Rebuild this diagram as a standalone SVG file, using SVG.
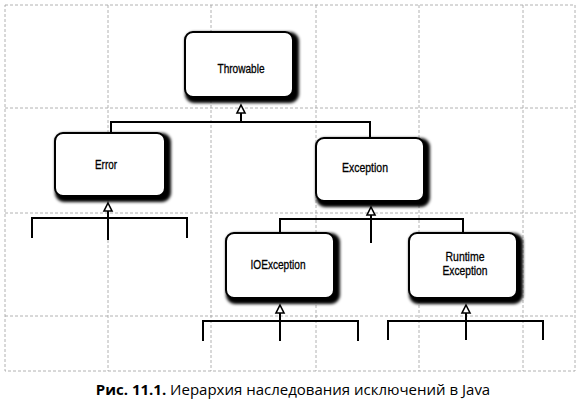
<svg xmlns="http://www.w3.org/2000/svg" width="580" height="403" viewBox="0 0 580 403">
<style>
.grid{fill:none;stroke:#a0a0a0;stroke-width:0.8;stroke-dasharray:3 2}
.box{fill:#fff;stroke:#000;stroke-width:2}
.lbl{font-family:"Liberation Sans",Arial,sans-serif;font-size:13px;fill:#000;stroke:#000;stroke-width:0.3;text-anchor:middle}
.conn{fill:none;stroke:#000;stroke-width:2}
.tri{fill:#fff;stroke:#000;stroke-width:1.6}
.cap{font-family:"Open Sans","DejaVu Sans",sans-serif;font-size:15px;fill:#000}
</style>
<defs>
<filter id="sh" x="-20%" y="-20%" width="140%" height="150%">
<feMorphology in="SourceAlpha" operator="dilate" radius="1.5" result="d"/>
<feGaussianBlur in="d" stdDeviation="1.8" result="b"/>
<feOffset in="b" dx="3" dy="3" result="o"/>
<feMerge><feMergeNode in="o"/><feMergeNode in="SourceGraphic"/></feMerge>
</filter>
</defs>
<rect width="580" height="403" fill="#fff"/>
<g id="grid">
<rect class="grid" x="5" y="5" width="570" height="366"/>
<line class="grid" x1="108" y1="5" x2="108" y2="371"/>
<line class="grid" x1="211" y1="5" x2="211" y2="371"/>
<line class="grid" x1="316" y1="5" x2="316" y2="371"/>
<line class="grid" x1="419" y1="5" x2="419" y2="371"/>
<line class="grid" x1="523" y1="5" x2="523" y2="371"/>
<line class="grid" x1="5" y1="108" x2="575" y2="108"/>
<line class="grid" x1="5" y1="213" x2="575" y2="213"/>
<line class="grid" x1="5" y1="316" x2="575" y2="316"/>
</g>
<g id="connectors">
<polyline class="conn" points="111,133 111,122 370,122 370,138"/>
<line class="conn" x1="241" y1="113" x2="241" y2="122"/>
<polygon class="tri" points="241,105 245,113 237,113"/>
<polyline class="conn" points="32,238 32,218 187,218 187,238"/>
<line class="conn" x1="108" y1="211" x2="108" y2="240"/>
<polygon class="tri" points="108,203 112,211 104,211"/>
<polyline class="conn" points="280,233 280,219 463,219 463,233"/>
<line class="conn" x1="371" y1="215" x2="371" y2="243"/>
<polygon class="tri" points="371,207 375,215 367,215"/>
<polyline class="conn" points="203,341 203,321 358,321 358,341"/>
<line class="conn" x1="280" y1="313" x2="280" y2="341"/>
<polygon class="tri" points="280,305 284,313 276,313"/>
<polyline class="conn" points="388,340 388,321 543,321 543,340"/>
<line class="conn" x1="466" y1="313" x2="466" y2="340"/>
<polygon class="tri" points="466,305 470,313 462,313"/>
</g>
<g id="throwable">
<rect class="box" filter="url(#sh)" x="185" y="32" width="108" height="65" rx="8"/>
<text class="lbl" x="241" y="73" textLength="47" lengthAdjust="spacingAndGlyphs">Throwable</text>
</g>
<g id="error">
<rect class="box" filter="url(#sh)" x="55" y="133" width="110" height="63" rx="8"/>
<text class="lbl" x="106" y="169" textLength="22" lengthAdjust="spacingAndGlyphs">Error</text>
</g>
<g id="exception">
<rect class="box" filter="url(#sh)" x="316" y="138" width="108" height="63" rx="8"/>
<text class="lbl" x="365" y="172" textLength="46" lengthAdjust="spacingAndGlyphs">Exception</text>
</g>
<g id="ioexception">
<rect class="box" filter="url(#sh)" x="226" y="233" width="108" height="65" rx="8"/>
<text class="lbl" x="278" y="269" textLength="55" lengthAdjust="spacingAndGlyphs">IOException</text>
</g>
<g id="runtimeexception">
<rect class="box" filter="url(#sh)" x="409" y="233" width="108" height="65" rx="8"/>
<text class="lbl" x="465" y="261" textLength="39" lengthAdjust="spacingAndGlyphs">Runtime</text>
<text class="lbl" x="465" y="275" textLength="45" lengthAdjust="spacingAndGlyphs">Exception</text>
</g>
<text class="cap" x="293" y="395" text-anchor="middle"><tspan font-weight="bold">Рис. 11.1.</tspan> Иерархия наследования исключений в Java</text>
</svg>
